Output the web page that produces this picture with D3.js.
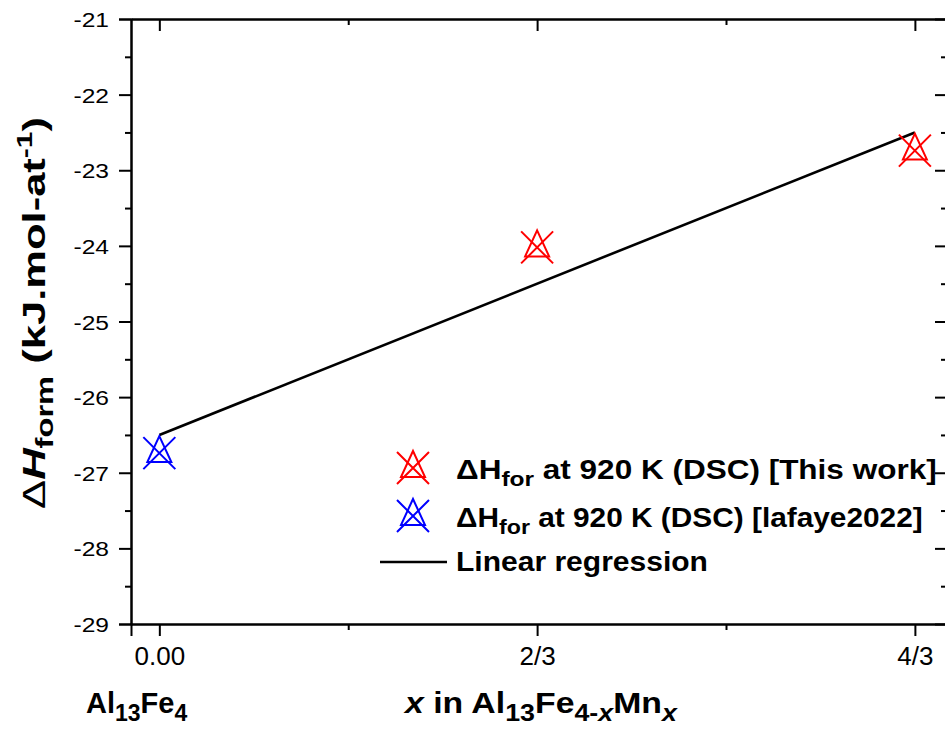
<!DOCTYPE html>
<html>
<head>
<meta charset="utf-8">
<script src="https://cdn.jsdelivr.net/npm/d3@7"></script>
<style>
  body { margin: 0; background: #fff; }
  svg { display: block; font-family: "Liberation Sans", Arial, sans-serif; }
</style>
</head>
<body>
<svg id="grafico" width="945" height="729"></svg>
<script>
// dados
const x_nosso = [2 / 3, 4 / 3];
const y_nosso = [-24.02, -22.74];
const x_lafaye = [0];
const y_lafaye = [-26.74];
const ticks_y = [-29, -28, -27, -26, -25, -24, -23, -22, -21];
const ticks_y_menor = [-28.5, -27.5, -26.5, -25.5, -24.5, -23.5, -22.5, -21.5];
const ticks_x = [0, 2 / 3, 4 / 3];
const rotulos_x = ["0.00", "2/3", "4/3"];
const ticks_x_menor = [1 / 3, 1];

const svg = d3.select("#grafico");
const esq = 131, dir = 947, topo = 19, base = 624;

const x = d3.scaleLinear().domain([-0.05, 1.39]).range([esq, dir]);
const y = d3.scaleLinear().domain([-29, -21]).range([base, topo]);

// regressao linear sobre todos os pontos
const todos_x = x_lafaye.concat(x_nosso);
const todos_y = y_lafaye.concat(y_nosso);
const mx = d3.mean(todos_x), my = d3.mean(todos_y);
const inclinacao = d3.sum(todos_x, (d, i) => (d - mx) * (todos_y[i] - my)) /
  d3.sum(todos_x, d => (d - mx) * (d - mx));
const intercepto = my - inclinacao * mx;
const reg_x = [0, 4 / 3];

// o texto da figura original sai mais largo que o Arial normal
function esticar(texto, largura) {
  const n = texto.node();
  const sx = largura / n.getComputedTextLength();
  texto.attr("transform", `scale(${sx},1)`);
}

// eixos
const sx_y = 1.17;
const eixo_esq = d3.axisLeft(y).tickValues(ticks_y).tickFormat(d => d).tickSizeOuter(0).tickSize(12);
const g_esq = svg.append("g").attr("transform", `translate(${esq},0)`).call(eixo_esq);
g_esq.selectAll("text")
  .style("font-size", "21px").attr("fill", "#000")
  .attr("font-family", "Liberation Sans, Arial, sans-serif")
  .attr("x", -22 / sx_y).attr("dy", "0.36em")
  .attr("transform", `scale(${sx_y},1)`);

const eixo_baixo = d3.axisBottom(x).tickValues(ticks_x).tickFormat((d, i) => rotulos_x[i]).tickSizeOuter(0).tickSize(12);
const g_baixo = svg.append("g").attr("transform", `translate(0,${base})`).call(eixo_baixo);
g_baixo.selectAll("text")
  .style("font-size", "26px").attr("fill", "#000")
  .attr("font-family", "Liberation Sans, Arial, sans-serif")
  .attr("y", 41).attr("dy", 0);

// ticks menores
svg.append("g").attr("transform", `translate(${esq},0)`)
  .call(d3.axisLeft(y).tickValues(ticks_y_menor).tickFormat("").tickSize(6).tickSizeOuter(0));
svg.append("g").attr("transform", `translate(0,${base})`)
  .call(d3.axisBottom(x).tickValues(ticks_x_menor).tickFormat("").tickSize(6).tickSizeOuter(0));

// espelhos no topo e na direita
svg.append("g").attr("transform", `translate(0,${topo})`)
  .call(d3.axisBottom(x).tickValues(ticks_x).tickFormat("").tickSize(12).tickSizeOuter(0));
svg.append("g").attr("transform", `translate(0,${topo})`)
  .call(d3.axisBottom(x).tickValues(ticks_x_menor).tickFormat("").tickSize(6).tickSizeOuter(0));
svg.append("g").attr("transform", `translate(${dir},0)`)
  .call(d3.axisLeft(y).tickValues(ticks_y).tickFormat("").tickSize(12).tickSizeOuter(0));
svg.append("g").attr("transform", `translate(${dir},0)`)
  .call(d3.axisLeft(y).tickValues(ticks_y_menor).tickFormat("").tickSize(6).tickSizeOuter(0));

svg.selectAll(".domain, .tick line").attr("stroke", "#000").attr("stroke-width", 2);

// regressao
const linha = d3.line().x(d => x(d)).y(d => y(intercepto + inclinacao * d));
svg.append("path").attr("d", linha(reg_x))
  .attr("fill", "none").attr("stroke", "#000").attr("stroke-width", 2.6);

// simbolo: triangulo + X
function simbolo(g, cx, cy, cor) {
  const s = g.append("g").attr("transform", `translate(${cx},${cy})`)
    .attr("fill", "none").attr("stroke", cor).attr("stroke-width", 2);
  s.append("path").attr("d", "M-16,-16L16,16M-16,16L16,-16");
  s.append("path").attr("d", "M0,-17L12,9L-12,9Z");
}

x_nosso.forEach((d, i) => simbolo(svg, x(d), y(y_nosso[i]), "#ff0000"));
x_lafaye.forEach((d, i) => simbolo(svg, x(d), y(y_lafaye[i]), "#0000ff"));

// legenda
const leg = svg.append("g").attr("font-weight", "bold");
simbolo(leg, 413, 468, "#ff0000");
simbolo(leg, 413, 516, "#0000ff");
leg.append("line").attr("x1", 380).attr("x2", 447).attr("y1", 562).attr("y2", 562)
  .attr("stroke", "#000").attr("stroke-width", 2.6);

function texto_leg(yb, conteudo, largura) {
  const g = leg.append("g").attr("transform", `translate(456,${yb})`);
  const t = g.append("text").style("font-size", "27px");
  conteudo(t);
  esticar(t, largura);
}
texto_leg(479, t => {
  t.append("tspan").text("\u0394H");
  t.append("tspan").style("font-size", "21px").attr("dy", 7).text("for");
  t.append("tspan").attr("dy", -7).text(" at 920 K (DSC) [This work]");
}, 481);
texto_leg(527, t => {
  t.append("tspan").text("\u0394H");
  t.append("tspan").style("font-size", "21px").attr("dy", 7).text("for");
  t.append("tspan").attr("dy", -7).text(" at 920 K (DSC) [lafaye2022]");
}, 467);
texto_leg(571, t => t.text("Linear regression"), 252);

// titulo do eixo y
const g_ty = svg.append("g").attr("transform", "translate(45,313) rotate(-90)");
const ty = g_ty.append("text").attr("text-anchor", "middle")
  .style("font-size", "32px").attr("font-weight", "bold");
ty.append("tspan").attr("font-weight", "normal").text("\u0394");
ty.append("tspan").attr("font-style", "italic").text("H");
ty.append("tspan").style("font-size", "24px").attr("dy", 8).text("form");
ty.append("tspan").attr("dy", -8).text(" (kJ.mol-at");
ty.append("tspan").style("font-size", "22px").attr("dy", -13).text("-1");
ty.append("tspan").attr("dy", 13).text(")");
esticar(ty, 392);

// rotulos de baixo
const al = svg.append("text").attr("x", 86).attr("y", 713)
  .style("font-size", "29px").attr("font-weight", "bold");
al.append("tspan").text("Al");
al.append("tspan").style("font-size", "23px").attr("dy", 8).text("13");
al.append("tspan").attr("dy", -8).text("Fe");
al.append("tspan").style("font-size", "23px").attr("dy", 8).text("4");

const g_tx = svg.append("g").attr("transform", "translate(405,713)");
const tx = g_tx.append("text").style("font-size", "29px").attr("font-weight", "bold");
tx.append("tspan").attr("font-style", "italic").text("x");
tx.append("tspan").text(" in Al");
tx.append("tspan").style("font-size", "23px").attr("dy", 8).text("13");
tx.append("tspan").attr("dy", -8).text("Fe");
tx.append("tspan").style("font-size", "23px").attr("dy", 8).text("4-");
tx.append("tspan").style("font-size", "23px").attr("font-style", "italic").text("x");
tx.append("tspan").attr("dy", -8).text("Mn");
tx.append("tspan").style("font-size", "23px").attr("font-style", "italic").attr("dy", 8).text("x");
esticar(tx, 272);
</script>
</body>
</html>
